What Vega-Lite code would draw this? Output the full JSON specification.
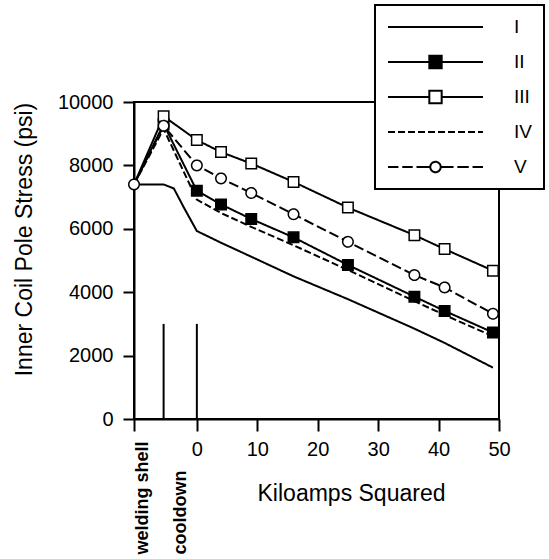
{
  "$schema": "https://vega.github.io/schema/vega-lite/v6.json",
  "autosize": {"type": "none"},
  "padding": {"left": 134, "top": 102, "right": 50, "bottom": 140},
  "width": 365,
  "height": 317,
  "background": "white",
  "config": {
    "font": "Liberation Sans",
    "view": {"stroke": "black", "strokeWidth": 2},
    "axis": {
      "grid": false,
      "domainColor": "black",
      "domainWidth": 2,
      "tickColor": "black",
      "tickWidth": 2,
      "labelColor": "black",
      "titleColor": "black",
      "labelFont": "Liberation Sans",
      "titleFont": "Liberation Sans",
      "labelFontSize": 20,
      "titleFontSize": 23,
      "titleFontWeight": "normal"
    }
  },
  "datasets": {
    "curves": [
      {"series": "I", "x": -10.4, "y": 7400},
      {"series": "I", "x": -5.5, "y": 7400},
      {"series": "I", "x": -3.8, "y": 7270},
      {"series": "I", "x": -2.2, "y": 6690},
      {"series": "I", "x": 0, "y": 5930},
      {"series": "I", "x": 4, "y": 5560},
      {"series": "I", "x": 9, "y": 5120},
      {"series": "I", "x": 16, "y": 4500},
      {"series": "I", "x": 25, "y": 3780},
      {"series": "I", "x": 36, "y": 2850},
      {"series": "I", "x": 41, "y": 2400},
      {"series": "I", "x": 49, "y": 1620},
      {"series": "IV", "x": -10.4, "y": 7400},
      {"series": "IV", "x": -5.5, "y": 9150},
      {"series": "IV", "x": 0, "y": 6920},
      {"series": "IV", "x": 4, "y": 6500},
      {"series": "IV", "x": 9, "y": 6060},
      {"series": "IV", "x": 16, "y": 5480},
      {"series": "IV", "x": 25, "y": 4700},
      {"series": "IV", "x": 36, "y": 3720},
      {"series": "IV", "x": 41, "y": 3280},
      {"series": "IV", "x": 49, "y": 2610},
      {"series": "II", "x": -10.4, "y": 7400},
      {"series": "II", "x": -5.5, "y": 9300},
      {"series": "II", "x": 0, "y": 7200},
      {"series": "II", "x": 4, "y": 6770},
      {"series": "II", "x": 9, "y": 6310},
      {"series": "II", "x": 16, "y": 5730},
      {"series": "II", "x": 25, "y": 4860},
      {"series": "II", "x": 36, "y": 3860},
      {"series": "II", "x": 41, "y": 3410},
      {"series": "II", "x": 49, "y": 2730},
      {"series": "III", "x": -10.4, "y": 7400},
      {"series": "III", "x": -5.5, "y": 9550},
      {"series": "III", "x": 0, "y": 8800},
      {"series": "III", "x": 4, "y": 8420},
      {"series": "III", "x": 9, "y": 8060},
      {"series": "III", "x": 16, "y": 7480},
      {"series": "III", "x": 25, "y": 6670},
      {"series": "III", "x": 36, "y": 5800},
      {"series": "III", "x": 41, "y": 5360},
      {"series": "III", "x": 49, "y": 4680},
      {"series": "V", "x": -10.4, "y": 7400},
      {"series": "V", "x": -5.5, "y": 9250},
      {"series": "V", "x": 0, "y": 8000},
      {"series": "V", "x": 4, "y": 7590},
      {"series": "V", "x": 9, "y": 7130},
      {"series": "V", "x": 16, "y": 6460},
      {"series": "V", "x": 25, "y": 5590},
      {"series": "V", "x": 36, "y": 4540},
      {"series": "V", "x": 41, "y": 4150},
      {"series": "V", "x": 49, "y": 3320}
    ],
    "markers": [
      {"x": -5.5, "bottom": 0, "top": 3000},
      {"x": 0, "bottom": 0, "top": 3000}
    ]
  },
  "resolve": {"scale": {"strokeDash": "independent"}, "legend": {"strokeDash": "independent"}},
  "layer": [
    {
      "data": {"name": "markers"},
      "mark": {"type": "rule", "color": "black", "strokeWidth": 2},
      "encoding": {
        "x": {"field": "x", "type": "quantitative", "scale": {"domain": [-10.4, 50], "nice": false, "zero": false}},
        "y": {"field": "bottom", "type": "quantitative"},
        "y2": {"field": "top"}
      }
    },
    {
      "data": {"name": "curves"},
      "mark": {"type": "line", "color": "black", "strokeWidth": 2},
      "encoding": {
        "x": {
          "field": "x", "type": "quantitative",
          "scale": {"domain": [-10.4, 50], "nice": false, "zero": false},
          "axis": {
            "title": "Kiloamps Squared",
            "values": [-10.4, -5.5, 0, 10, 20, 30, 40, 50],
            "labelExpr": "datum.value < -8 ? 'welding shell' : datum.value < 0 ? 'cooldown' : datum.label",
            "tickSize": 12,
            "labelPadding": 8,
            "tickOpacity": {"condition": {"test": "datum.value == -5.5", "value": 0}, "value": 1},
            "labelAlign": {"condition": {"test": "datum.value < 0", "value": "left"}, "value": "center"},
            "labelBaseline": {"condition": {"test": "datum.value < 0", "value": "middle"}, "value": "top"},
            "labelFontWeight": {"condition": {"test": "datum.value < 0", "value": "bold"}, "value": "normal"},
            "labelFontSize": {"condition": {"test": "datum.value < 0", "value": 18}, "value": 20},
            "labelOverlap": false,
            "labelFlush": false,
            "titleX": 217,
            "titleY": 63,
            "titleBaseline": "top",
            "encoding": {
              "labels": {
                "angle": {"condition": {"test": "datum.value < 0", "value": 270}, "value": 0},
                "dx": {"condition": {"test": "datum.value < 0", "value": -115}, "value": 0},
                "dy": {"condition": [{"test": "datum.value < -8", "value": 8}, {"test": "datum.value < 0", "value": 17}], "value": 0}
              }
            }
          }
        },
        "y": {
          "field": "y", "type": "quantitative",
          "scale": {"domain": [0, 10000], "nice": false},
          "axis": {
            "title": "Inner Coil Pole Stress (psi)",
            "values": [0, 1000, 2000, 3000, 4000, 5000, 6000, 7000, 8000, 9000, 10000],
            "format": "d",
            "labelExpr": "datum.value % 2000 == 0 ? datum.label : ''",
            "tickSize": {"condition": {"test": "datum.value % 2000 != 0", "value": 6}, "value": 11},
            "labelPadding": 10,
            "titlePadding": 21,
            "titleY": 137
          }
        },
        "detail": {"field": "series"},
        "strokeDash": {
          "field": "series", "type": "nominal",
          "scale": {"domain": ["I", "II", "III", "IV", "V"], "range": [[1, 0], [1, 0], [1, 0], [7, 3], [10, 4]]},
          "legend": null
        }
      }
    },
    {
      "data": {"name": "curves"},
      "transform": [{"filter": "datum.series == 'V' || ((datum.series == 'II' || datum.series == 'III') && datum.x > -10)"}],
      "mark": {"type": "point", "filled": true, "stroke": "black", "strokeWidth": 1.5, "size": 110, "opacity": 1},
      "encoding": {
        "x": {"field": "x", "type": "quantitative"},
        "y": {"field": "y", "type": "quantitative"},
        "shape": {"field": "series", "type": "nominal", "scale": {"domain": ["II", "III", "V"], "range": ["square", "square", "circle"]}, "legend": null},
        "fill": {"field": "series", "type": "nominal", "scale": {"domain": ["II", "III", "V"], "range": ["black", "white", "white"]}, "legend": null},
        "strokeDash": {
          "field": "series", "type": "nominal",
          "scale": {"domain": ["I", "II", "III", "IV", "V"], "range": [[1, 0], [1, 0], [1, 0], [7, 3], [1, 0]]},
          "legend": {
            "orient": "none",
            "legendX": 241,
            "legendY": -97,
            "title": null,
            "symbolType": "stroke",
            "symbolSize": 9025,
            "symbolStrokeWidth": 2,
            "symbolStrokeColor": "black",
            "clipHeight": 20,
            "labelFont": "Liberation Sans",
            "labelFontSize": 19,
            "labelColor": "black",
            "labelOffset": 30,
            "rowPadding": 15,
            "padding": 12,
            "strokeColor": "black",
            "fillColor": "white",
            "encoding": {
              "symbols": {
                "shape": {"value": {"expr": "datum.value == 'II' || datum.value == 'III' ? 'M-1,0H-0.13M0.13,0H1M-0.13,-0.13H0.13V0.13H-0.13Z' : datum.value == 'V' ? 'M-1,0H-0.78M-0.7,0H-0.48M-0.4,0H-0.12M0.12,0H0.38M0.46,0H0.7M0.78,0H1M-0.11,0A0.11,0.11,0,1,1,0.11,0A0.11,0.11,0,1,1,-0.11,0Z' : 'M-1,0H1'"}},
                "fill": {"value": {"expr": "datum.value == 'II' ? 'black' : 'white'"}},
                "stroke": {"value": "black"},
                "strokeWidth": {"value": 2},
                "opacity": {"value": 1}
              },
              "legend": {"strokeWidth": {"value": 2}}
            }
          }
        }
      }
    }
  ]
}
